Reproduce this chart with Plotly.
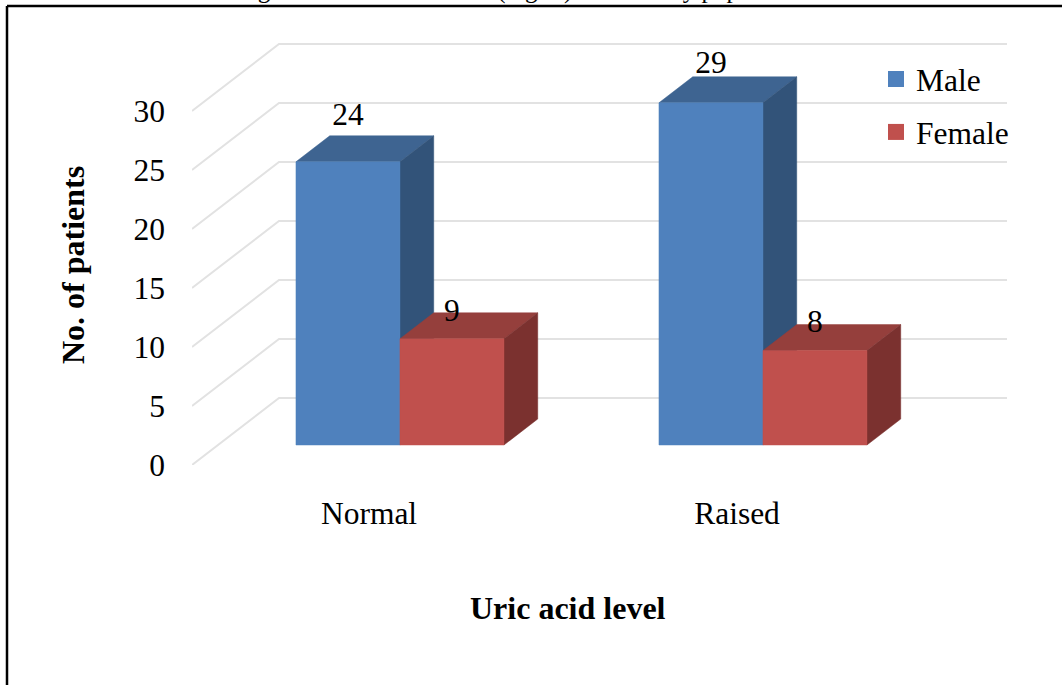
import plotly.graph_objects as go

# ---- data ----
categories = ["Normal", "Raised"]
male = [24, 29]
female = [9, 8]
y_ticks = [0, 5, 10, 15, 20, 25, 30]
label_lift_male = [3.76, 3.16]
label_lift_female = [2.16, 2.23]

# ---- pseudo-3D geometry (axis units) ----
FONT = "Liberation Serif"
FS = 31.5
PX_PER_CAT = 363.0
PX_PER_VAL = 11.8
DEPTH_X = 87 / PX_PER_CAT     # full floor depth in x-axis units
DEPTH_Y = 67 / PX_PER_VAL     # full floor depth in y-axis units
BAR_D0 = 20 / 67              # depth of bar fronts
BAR_D = 26 / 67               # thickness of bars
BAR_W = 104 / PX_PER_CAT
L, R, T, B = 192, 1010, 40, 465
X0_PX = 374
x_range = [(L - X0_PX) / PX_PER_CAT, (R - X0_PX) / PX_PER_CAT]
y_range = [0, (B - T) / PX_PER_VAL]


def px(xp):
    return (xp - L) / (R - L)


def py(yp):
    return (B - yp) / (B - T)


def proj(x, v, d):
    return x + d * DEPTH_X, v + d * DEPTH_Y


def faces(values, series_idx):
    front, top, side = ([], []), ([], []), ([], [])

    def add(store, pts):
        for p in pts + [pts[0]]:
            store[0].append(p[0])
            store[1].append(p[1])
        store[0].append(None)
        store[1].append(None)

    for i, v in enumerate(values):
        x0 = i + (series_idx - 1) * BAR_W
        x1 = x0 + BAR_W
        d0, d1 = BAR_D0, BAR_D0 + BAR_D
        add(front, [proj(x0, 0, d0), proj(x1, 0, d0), proj(x1, v, d0), proj(x0, v, d0)])
        add(top, [proj(x0, v, d0), proj(x1, v, d0), proj(x1, v, d1), proj(x0, v, d1)])
        add(side, [proj(x1, 0, d0), proj(x1, 0, d1), proj(x1, v, d1), proj(x1, v, d0)])
    return front, top, side


fig = go.Figure()

# gridlines: front-left -> back wall -> right
GRID_END = (1007 - X0_PX) / PX_PER_CAT
for t in y_ticks:
    xb, yb = proj(x_range[0], t, 1.0)
    fig.add_trace(go.Scatter(x=[x_range[0], xb, GRID_END], y=[t, yb, yb], mode="lines",
                             line=dict(color="#e2e2e2", width=2), hoverinfo="skip", showlegend=False))

series = [
    ("Male", male, 0, "#4f81bd", "#3e6491", "#325379"),
    ("Female", female, 1, "#c0504d", "#953f3c", "#7b312f"),
]
for name, vals, idx, c_front, c_top, c_side in series:
    front, top, side = faces(vals, idx)
    for store, col in ((top, c_top), (side, c_side), (front, c_front)):
        fig.add_trace(go.Scatter(x=store[0], y=store[1], mode="lines", fill="toself", fillcolor=col,
                                 line=dict(color=col, width=0.5), name=name, legendgroup=name,
                                 hoverinfo="name", showlegend=False))
    fig.add_trace(go.Scatter(x=[None], y=[None], mode="markers", name=name, legendgroup=name,
                             marker=dict(symbol="square", size=16, color=c_front)))

# data labels
for vals, lift, idx in ((male, label_lift_male, 0), (female, label_lift_female, 1)):
    xs, ys = [], []
    for i, (v, l) in enumerate(zip(vals, lift)):
        x, y = proj(i + (idx - 0.5) * BAR_W, v + l, BAR_D0)
        xs.append(x)
        ys.append(y)
    fig.add_trace(go.Scatter(x=xs, y=ys, mode="text", text=[str(v) for v in vals],
                             textposition="middle center", cliponaxis=False,
                             textfont=dict(family=FONT, size=FS, color="#000"),
                             hoverinfo="skip", showlegend=False))

fig.update_layout(
    width=1062, height=685, autosize=False,
    margin=dict(l=L, r=1062 - R, t=T, b=685 - B),
    paper_bgcolor="white", plot_bgcolor="white",
    font=dict(family=FONT, size=FS, color="#000"),
    xaxis=dict(range=x_range, tickmode="array",
               tickvals=[(i - (5 / PX_PER_CAT if i == 0 else 0)) for i in range(len(categories))],
               ticktext=categories, showgrid=False, zeroline=False, showline=False,
               ticks="", ticklabelstandoff=26, tickfont=dict(family=FONT, size=FS)),
    yaxis=dict(range=y_range, tickmode="array", tickvals=y_ticks, showgrid=False, zeroline=False,
               showline=False, ticks="", ticklabelstandoff=26, tickfont=dict(family=FONT, size=FS)),
    legend=dict(x=px(876), y=py(52), xanchor="left", yanchor="top", tracegroupgap=9,
                bgcolor="rgba(0,0,0,0)", font=dict(family=FONT, size=FS)),
    showlegend=True,
    shapes=[
        dict(type="line", xref="paper", yref="paper", x0=px(7), x1=px(1062), y0=py(6), y1=py(6),
             line=dict(color="#000", width=2.5)),
        dict(type="line", xref="paper", yref="paper", x0=px(7), x1=px(7), y0=py(6), y1=py(690),
             line=dict(color="#000", width=2.5)),
    ],
    annotations=[
        dict(text="<b>Uric acid level</b>", xref="paper", yref="paper", x=px(568), y=py(608),
             xanchor="center", yanchor="middle", showarrow=False, font=dict(family=FONT, size=32)),
        dict(text="<b>No. of patients</b>", xref="paper", yref="paper", x=px(73), y=py(265),
             xanchor="center", yanchor="middle", textangle=-90, showarrow=False,
             font=dict(family=FONT, size=32)),
        dict(text="Figure 1: Uric acid levels (mg/dl) in the study population", xref="paper", yref="paper",
             x=px(235), y=py(6), xanchor="left", yanchor="bottom", showarrow=False,
             font=dict(family=FONT, size=25)),
    ],
)

fig.write_html("out.html", config={"displayModeBar": False},
               post_script="document.body.style.margin='0';document.body.style.overflow='hidden';")
